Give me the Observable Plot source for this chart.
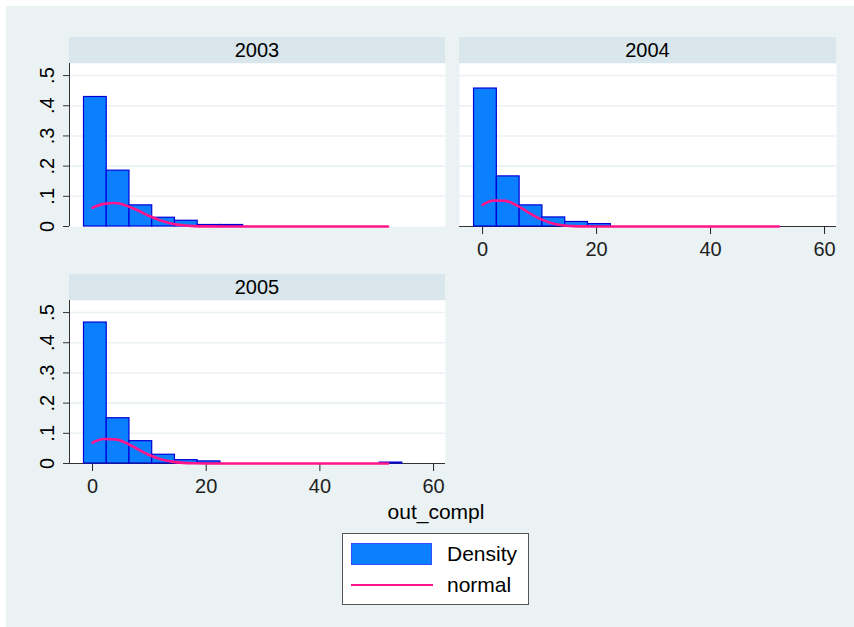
<!DOCTYPE html>
<html><head><meta charset="utf-8">
<script src="https://cdn.jsdelivr.net/npm/d3@7"></script>
<script src="https://cdn.jsdelivr.net/npm/@observablehq/plot@0.6"></script>
<style>
body{margin:0;background:#fff;font-family:"Liberation Sans",Arial,sans-serif;}
#bg{position:absolute;left:6px;top:6px;width:848px;height:621px;background:#eaf2f3;}
.strip{position:absolute;background:#d9e6eb;color:#000;font-size:20px;text-align:center;line-height:26px;height:26px;}
svg{overflow:visible}
</style></head><body>
<div id="bg"></div>
<div id="root"></div>
<script>
// ---- data ----
const years = ["2003", "2004", "2005"];
const binStarts = [-1.5, 2.5, 6.5, 10.5, 14.5, 18.5, 22.5, 26.5, 30.5, 34.5, 38.5, 42.5, 46.5, 50.5];
const binWidth = 4;
const density2003 = [0.429, 0.185, 0.070, 0.029, 0.019, 0.005, 0.005, 0, 0, 0, 0, 0, 0, 0];
const density2004 = [0.457, 0.166, 0.070, 0.030, 0.015, 0.008, 0, 0, 0, 0, 0, 0, 0, 0];
const density2005 = [0.467, 0.150, 0.074, 0.029, 0.011, 0.007, 0, 0, 0, 0, 0, 0, 0, 0.003];
const curveX = [0, 2, 4, 6, 8, 10, 12, 14, 16, 18, 20, 24, 30, 40, 52];
const normal2003 = [0.062, 0.075, 0.078, 0.069, 0.053, 0.035, 0.020, 0.0094, 0.0039, 0.0014, 0.0004, 0, 0, 0, 0];
const normal2004 = [0.072, 0.086, 0.085, 0.070, 0.047, 0.026, 0.012, 0.0044, 0.0013, 0.0003, 0.0001, 0, 0, 0, 0];
const normal2005 = [0.069, 0.081, 0.080, 0.067, 0.047, 0.028, 0.014, 0.0061, 0.0022, 0.0007, 0.0002, 0, 0, 0, 0];
const xTicks = [0, 20, 40, 60];
const yTicks = [0, 0.1, 0.2, 0.3, 0.4, 0.5];
const yTickLabels = ["0", ".1", ".2", ".3", ".4", ".5"];
const gridTicks = [0.1, 0.2, 0.3, 0.4, 0.5];
const legendLabels = ["Density", "normal"];
const axisTitle = "out_compl";

// ---- style ----
const barFill = "#0a80ff", barStroke = "#0000d8", lineColor = "#ff148c";
const gridColor = "#eaf2f3", axisColor = "#333";
const xDomain = [-4.05, 62.1], yDomain = [0, 0.54];
const font = "Liberation Sans, Arial, sans-serif";

function panel({density, normal, showY, showX, width, marginLeft}) {
  const bars = binStarts.map((x1, i) => ({x1, x2: x1 + binWidth, y: density[i]})).filter(d => d.y > 0);
  const line = curveX.map((x, i) => ({x, y: normal[i]}));
  const marks = [
    Plot.frame({fill: "white", stroke: null}),
    Plot.ruleY(gridTicks, {stroke: gridColor, strokeWidth: 1.6})
  ];
  if (showY) {
    marks.push(
      Plot.ruleX([xDomain[0]], {stroke: axisColor, strokeWidth: 1}),
      Plot.axisY({ticks: yTicks, tickSize: 6, tickFormat: () => "", label: null, color: axisColor}),
      Plot.text(yTicks, {y: d => d, text: (d, i) => yTickLabels[i], frameAnchor: "left", dx: -16,
        rotate: -90, textAnchor: "middle", lineAnchor: "bottom", fontSize: 20, fill: "#000"})
    );
  }
  if (showX) {
    marks.push(
      Plot.ruleY([0], {stroke: axisColor, strokeWidth: 1}),
      Plot.axisX({ticks: xTicks, tickSize: 8, tickPadding: 7, fontSize: 20, label: null, color: "#222", tickFormat: d => String(d)})
    );
  }
  marks.push(
    Plot.rectY(bars, {x1: "x1", x2: "x2", y: "y", fill: barFill, stroke: barStroke, strokeWidth: 1.2}),
    Plot.line(line, {x: "x", y: "y", stroke: lineColor, strokeWidth: 2.6, curve: "monotone-x"})
  );
  return Plot.plot({
    width, height: 163 + (showX ? 40 : 0),
    marginLeft, marginRight: 0, marginTop: 0, marginBottom: showX ? 40 : 0,
    x: {domain: xDomain, axis: null},
    y: {domain: yDomain, axis: null},
    style: {background: "transparent", fontFamily: font, fontSize: "20px", overflow: "visible"},
    marks
  });
}

const root = document.getElementById("root");
function place(el, left, top) {
  el.style.position = "absolute"; el.style.left = left + "px"; el.style.top = top + "px";
  root.appendChild(el);
}
function strip(text, left, top, width) {
  const d = document.createElement("div");
  d.className = "strip"; d.textContent = text;
  d.style.left = left + "px"; d.style.top = top + "px"; d.style.width = width + "px";
  root.appendChild(d);
}

strip(years[0], 69, 37, 376);
strip(years[1], 459, 37, 377);
strip(years[2], 69, 274, 376);

place(panel({density: density2003, normal: normal2003, showY: true, showX: false, width: 445, marginLeft: 69}), 0, 63);
place(panel({density: density2004, normal: normal2004, showY: false, showX: true, width: 377, marginLeft: 0}), 459, 63);
place(panel({density: density2005, normal: normal2005, showY: true, showX: true, width: 445, marginLeft: 69}), 0, 300);

// axis title
const t = document.createElement("div");
t.textContent = axisTitle;
t.style.cssText = "position:absolute;left:336px;width:200px;text-align:center;top:499px;font-size:21px;line-height:26px;color:#000;";
root.appendChild(t);

// legend
const lg = document.createElement("div");
lg.style.cssText = "position:absolute;left:342px;top:533px;width:185px;height:70px;background:#fff;border:1px solid #555;";
root.appendChild(lg);
const sw = document.createElement("div");
sw.style.cssText = `position:absolute;left:8px;top:9px;width:79px;height:20px;background:${barFill};border:1px solid #3050ff;`;
lg.appendChild(sw);
const ln = document.createElement("div");
ln.style.cssText = `position:absolute;left:8px;top:49.5px;width:82px;height:0;border-top:2.5px solid ${lineColor};`;
lg.appendChild(ln);
legendLabels.forEach((lab, i) => {
  const s = document.createElement("div");
  s.textContent = lab;
  s.style.cssText = `position:absolute;left:104px;top:${i === 0 ? 7 : 38}px;font-size:21px;line-height:26px;color:#000;`;
  lg.appendChild(s);
});
</script>
</body></html>
